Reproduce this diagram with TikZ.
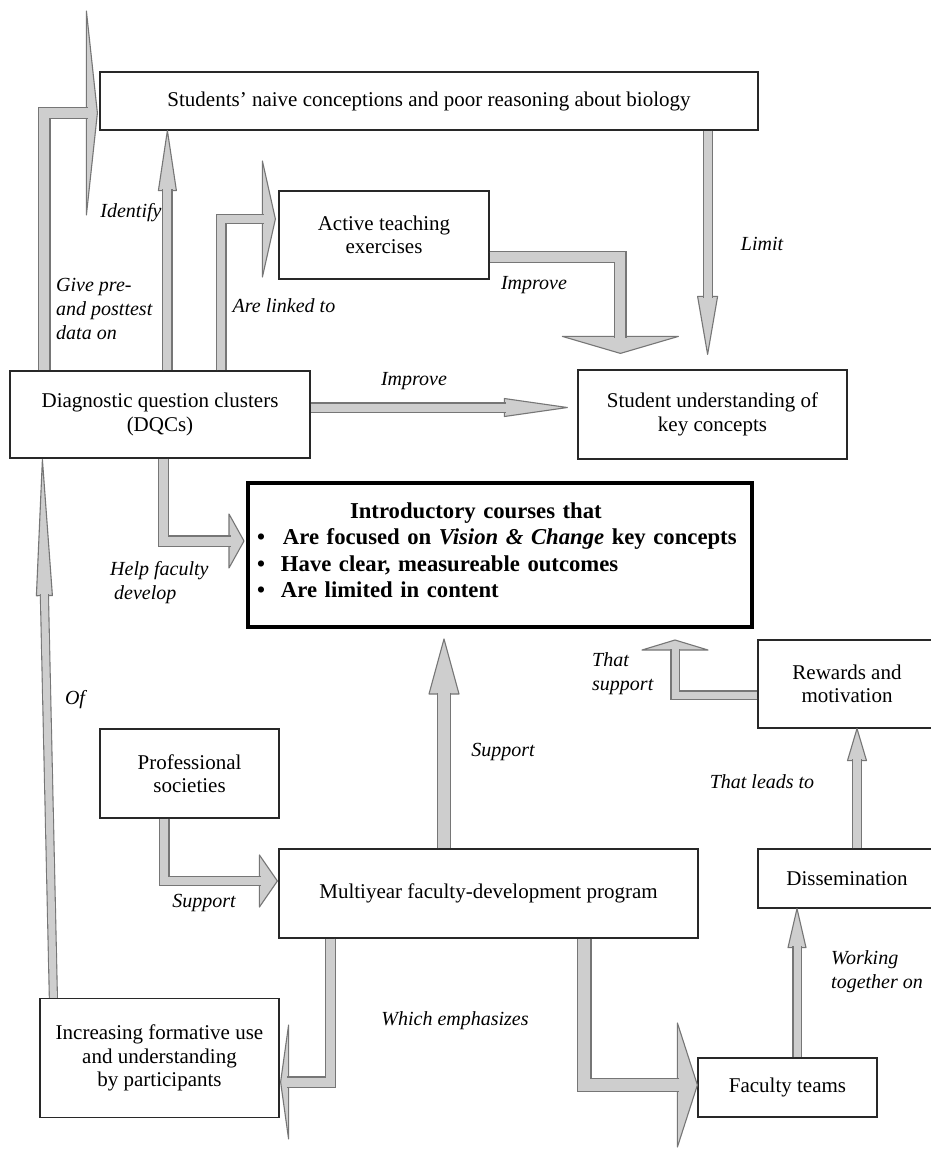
\documentclass[tikz,border=0pt]{standalone}
\usepackage{fontspec}
\setmainfont{Liberation Serif}[
  ItalicFont={Liberation Serif Italic},
  BoldFont={Liberation Serif Bold},
  BoldItalicFont={Liberation Serif Bold Italic}]
\usetikzlibrary{calc}
\pgfdeclarelayer{bg}
\pgfsetlayers{bg,main}
\definecolor{afill}{RGB}{206,206,206}
\definecolor{aline}{RGB}{118,118,118}
\definecolor{bline}{RGB}{40,40,40}
\definecolor{ashadow}{RGB}{195,195,195}
\tikzset{
 box/.style={draw=bline, line width=1.2pt, fill=white, align=center, inner sep=0pt,
   font=\fontsize{21}{23.5}\selectfont},
 lbl/.style={font=\fontsize{20}{24}\selectfont\itshape, inner sep=0pt},
 ashaft/.style={draw=aline, line width=1.1pt, double=afill, double distance=#1, line cap=butt, line join=miter},
 ahead/.style={draw=aline, line width=1.1pt, fill=afill, line join=round},
 sshaft/.style={draw=ashadow, line width=1.6pt, double=ashadow, double distance=#1, line join=miter},
 shead/.style={fill=ashadow, draw=ashadow, line width=1.6pt, line join=round},
}
\newcommand\barrow[7]{%
  \path[#2] (#5) -- ($(#4)!#6!90:(#5)$) -- ($(#4)!#6!-90:(#5)$) -- cycle;
  \path[#1=#7] #3;
}
\newcommand\allarrows[2]{%
  \barrow{#1}{#2}{(a1s) |- (a1e)}{a1b}{a1t}{102pt}{10pt}
  \barrow{#1}{#2}{(a2s) -- (a2e)}{a2b}{a2t}{9pt}{8pt}
  \barrow{#1}{#2}{(a3s) |- (a3e)}{a3b}{a3t}{58pt}{8pt}
  \barrow{#1}{#2}{(a4s) -| (a4e)}{a4b}{a4t}{58pt}{10pt}
  \barrow{#1}{#2}{(a5s) -- (a5e)}{a5b}{a5t}{10pt}{8pt}
  \barrow{#1}{#2}{(a6s) -- (a6e)}{a6b}{a6t}{9pt}{8pt}
  \barrow{#1}{#2}{(a7s) |- (a7e)}{a7b}{a7t}{27pt}{9pt}
  \barrow{#1}{#2}{(a8s) -- (a8e)}{a8b}{a8t}{8pt}{7pt}
  \barrow{#1}{#2}{(a9s) -- (a9e)}{a9b}{a9t}{15pt}{12pt}
  \barrow{#1}{#2}{(a10s) -| (a10e)}{a10b}{a10t}{33pt}{7pt}
  \barrow{#1}{#2}{(a11s) -- (a11e)}{a11b}{a11t}{9.5pt}{8pt}
  \barrow{#1}{#2}{(a12s) |- (a12e)}{a12b}{a12t}{26pt}{8pt}
  \barrow{#1}{#2}{(a13s) |- (a13e)}{a13b}{a13t}{57pt}{9pt}
  \barrow{#1}{#2}{(a14s) |- (a14e)}{a14b}{a14t}{62pt}{12pt}
  \barrow{#1}{#2}{(a15s) -- (a15e)}{a15b}{a15t}{9pt}{7pt}
}
\begin{document}
\begin{tikzpicture}[x=1pt,y=-1pt]
\useasboundingbox (0,0) rectangle (931,1149);
\clip (0,0) rectangle (931,1149);
\fill[white] (0,0) rectangle (931,1149);

% boxes
\node[box, minimum width=658pt, minimum height=58pt] (naive) at (429,101)
  {Students’ naive conceptions and poor reasoning about biology};
\node[box, minimum width=210pt, minimum height=88pt] (active) at (384,235)
  {Active teaching\\exercises};
\node[box, minimum width=269pt, minimum height=89pt] (und) at (712.5,414.5)
  {Student understanding of\\key concepts};
\node[box, minimum width=300pt, minimum height=87pt] (dqc) at (160,414.5)
  {Diagnostic question clusters\\(DQCs)};
\node[draw=black, line width=4pt, fill=white, minimum width=504pt, minimum height=144pt] (intro) at (500,555) {};
\node[inner sep=0pt, text width=486pt, align=left,
  font=\fontsize{22.7}{26.5}\selectfont\bfseries] (introtext) at (500,550)
  {\hspace*{93pt}Introductory courses that\\
   \makebox[26pt][l]{•}Are focused on \textit{Vision \& Change} key concepts\\
   \makebox[24pt][l]{•}Have clear, measureable outcomes\\
   \makebox[24pt][l]{•}Are limited in content};
\node[box, minimum width=178pt, minimum height=88pt] (rew) at (847,684)
  {Rewards and\\motivation};
\node[box, minimum width=179pt, minimum height=89pt] (prof) at (189.5,773.5)
  {Professional\\societies};
\node[box, minimum width=419pt, minimum height=89pt] (multi) at (488.5,893.5)
  {Multiyear faculty-development program};
\node[box, minimum width=178pt, minimum height=59pt] (diss) at (847,878.5)
  {Dissemination};
\node[box, minimum width=179pt, minimum height=59pt] (fac) at (787.5,1087.5)
  {Faculty teams};
\node[box, minimum width=239pt, minimum height=119pt] (inc) at (159.5,1058)
  {Increasing formative use\\and understanding\\by participants};

% arrow geometry
\coordinate (a1s) at ($(dqc.north west)+(35,0)$);
\coordinate (a1t) at ($(naive.west)+(-2,12)$);
\coordinate (a1b) at ($(a1t)+(-11,0)$);
\coordinate (a2s) at ($(dqc.north west)+(158,0)$);
\coordinate (a2t) at (a2s |- naive.south);
\coordinate (a2b) at ($(a2t)+(0,60)$);
\coordinate (a3s) at ($(dqc.north west)+(212,0)$);
\coordinate (a3t) at ($(active.west)+(-3,-16)$);
\coordinate (a3b) at ($(a3t)+(-13,0)$);
\coordinate (a4s) at ($(active.east)+(0,22)$);
\coordinate (a4t) at ($(und.north west)+(43,-16)$);
\coordinate (a4b) at ($(a4t)+(0,-17)$);
\coordinate (a5s) at ($(naive.south east)+(-51,0)$);
\coordinate (a5t) at ($(a5s |- und.north)+(0,-15)$);
\coordinate (a5b) at ($(a5t)+(0,-58)$);
\coordinate (a6s) at ($(dqc.east)+(0,-7)$);
\coordinate (a6t) at ($(und.west |- a6s)+(-10,0)$);
\coordinate (a6b) at ($(a6t)+(-63,0)$);
\coordinate (a7s) at ($(dqc.south west)+(154,0)$);
\coordinate (a7t) at ($(intro.west)+(-2,-14)$);
\coordinate (a7b) at ($(a7t)+(-15,0)$);
\coordinate (a8s) at ($(inc.north west)+(14,0)$);
\coordinate (a8t) at ($(dqc.south west)+(33,1)$);
\coordinate (a8b) at ($(a8t)+(2,136)$);
\coordinate (a9s) at ($(multi.north)+(-44.5,0)$);
\coordinate (a9t) at ($(a9s |- intro.south)+(0,10)$);
\coordinate (a9b) at ($(a9t)+(0,55)$);
\coordinate (a10s) at ($(rew.west)+(0,11)$);
\coordinate (a10t) at ($(intro.south east)+(-79,11)$);
\coordinate (a10b) at ($(a10t)+(0,10)$);
\coordinate (a11s) at ($(diss.north)+(10,0)$);
\coordinate (a11t) at (a11s |- rew.south);
\coordinate (a11b) at ($(a11t)+(0,32)$);
\coordinate (a12s) at ($(prof.south west)+(65,0)$);
\coordinate (a12t) at ($(multi.west)+(-1,-12.5)$);
\coordinate (a12b) at ($(a12t)+(-18,0)$);
\coordinate (a13s) at ($(multi.south west)+(52,0)$);
\coordinate (a13t) at ($(inc.east)+(1,24)$);
\coordinate (a13b) at ($(a13t)+(8,0)$);
\coordinate (a14s) at ($(multi.south west)+(306,0)$);
\coordinate (a14t) at ($(fac.west)+(0,-2.5)$);
\coordinate (a14b) at ($(a14t)+(-20,0)$);
\coordinate (a15s) at ($(fac.north)+(9.5,0)$);
\coordinate (a15t) at (a15s |- diss.south);
\coordinate (a15b) at ($(a15t)+(0,39)$);
\foreach \i in {1,...,15}{\coordinate (a\i e) at ($(a\i b)!1.5pt!(a\i t)$);}

% shadows
\begin{pgfonlayer}{bg}
\begin{scope}[transform canvas={shift={(2.5pt,-2.5pt)}}]
\allarrows{sshaft}{shead}
\end{scope}
\end{pgfonlayer}
% arrows
\allarrows{ashaft}{ahead}

% labels
\node[lbl] (lidentify) at (131,213) {Identify};
\node[lbl, align=left, anchor=west] (lgive) at (56,309) {Give pre-\\and posttest\\data on};
\node[lbl] (llinked) at (284,306) {Are linked to};
\node[lbl] (limp1) at (534,285) {Improve};
\node[lbl] (llimit) at (762,244) {Limit};
\node[lbl] (limp2) at (414,381) {Improve};
\node[lbl, align=left, anchor=west] (lhelp) at (110,583) {Help faculty\\\hspace*{4pt}develop};
\node[lbl] (lof) at (75,700) {Of};
\node[lbl, align=left, anchor=west] (lthat) at (592,674) {That\\support};
\node[lbl] (lsup1) at (503,752) {Support};
\node[lbl] (llead) at (762,782) {That leads to};
\node[lbl] (lsup2) at (204,903) {Support};
\node[lbl] (lwhich) at (455,1021) {Which emphasizes};
\node[lbl, align=left, anchor=west] (lwork) at (831,972) {Working\\together on};
\end{tikzpicture}
\end{document}
